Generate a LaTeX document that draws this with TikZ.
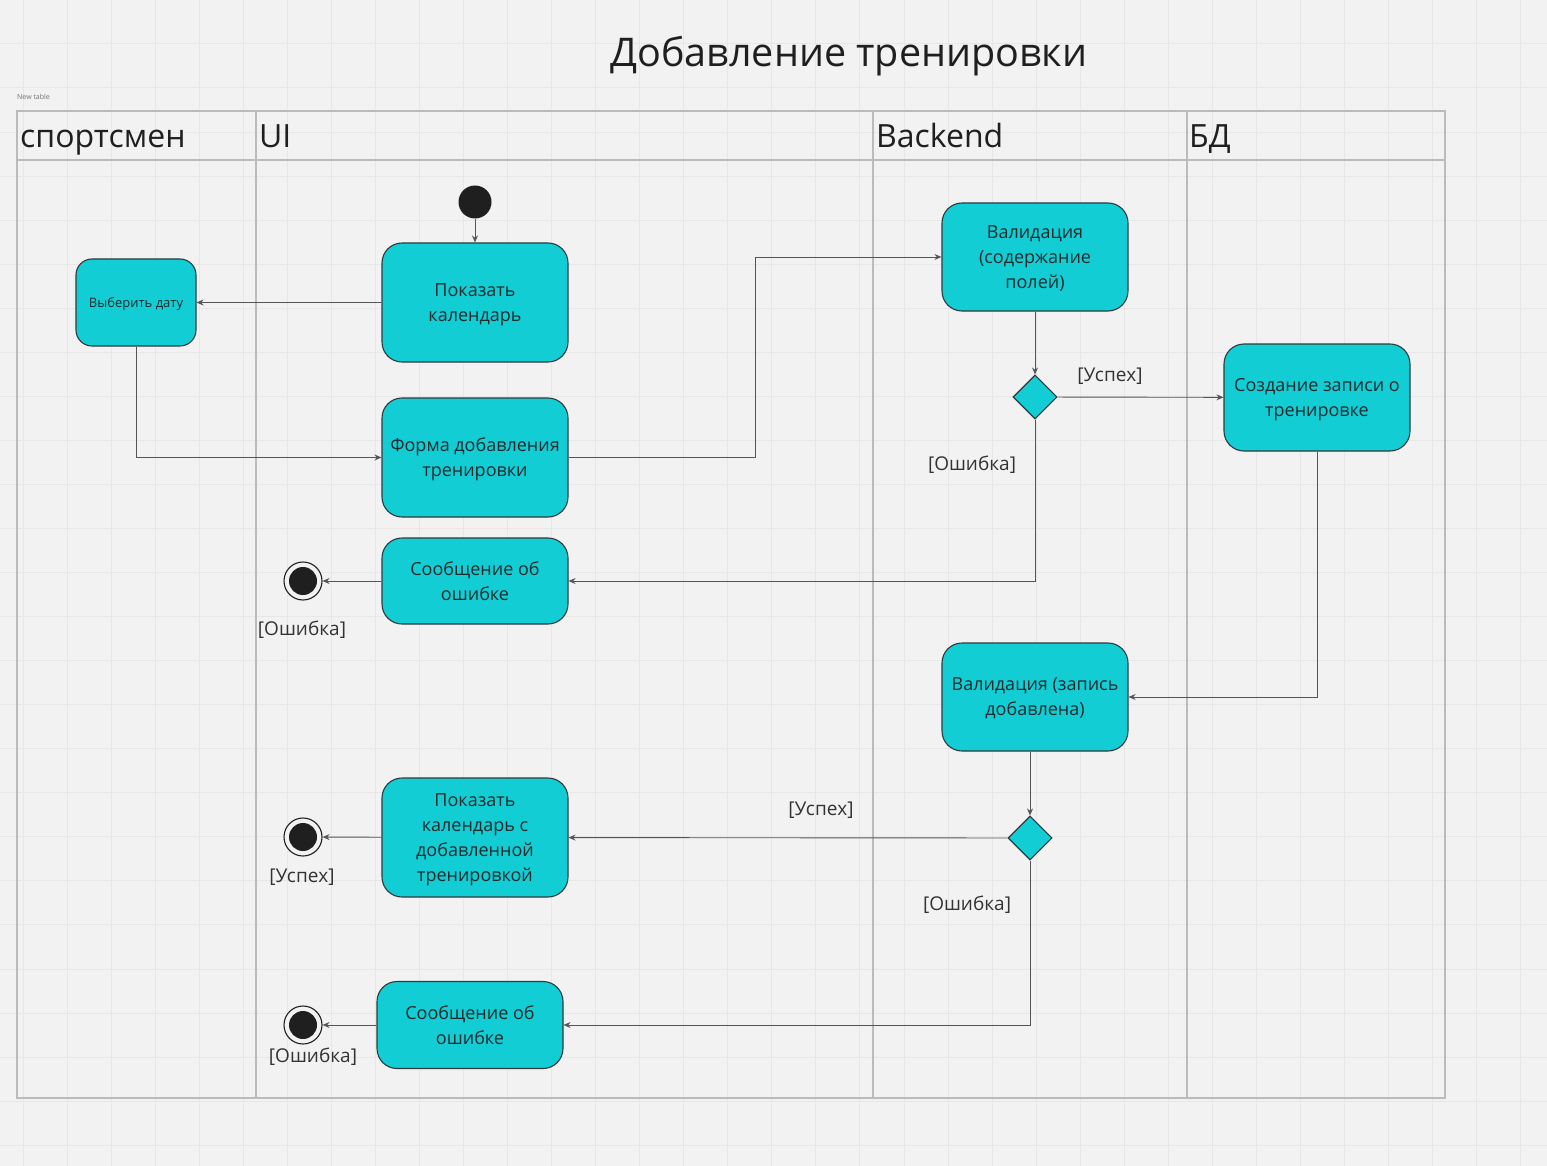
\documentclass[tikz,border=0pt]{standalone}
\usepackage{fontspec}
\setmainfont{Open Sans}
\usetikzlibrary{arrows.meta,shapes.geometric}
\definecolor{bg}{HTML}{F2F2F2}
\definecolor{gridc}{HTML}{E7E7E7}
\definecolor{lanec}{HTML}{BBBBBB}
\definecolor{nodefill}{HTML}{13CDD4}
\definecolor{nodeline}{HTML}{2E3A3C}
\definecolor{txt}{HTML}{1E2A2C}
\definecolor{linec}{HTML}{555555}
\tikzset{
  act/.style={draw=nodeline, line width=1.1pt, fill=nodefill, rounded corners=20pt,
    minimum width=186pt, align=center, text=txt, text depth=0pt,
    font=\fontsize{18}{25}\selectfont, inner sep=2pt},
  dec/.style={draw=nodeline, line width=1.1pt, fill=nodefill, diamond, minimum width=44pt, minimum height=44pt, inner sep=0pt},
  initnode/.style={circle, fill=black!88, minimum size=33pt, inner sep=0pt},
  finalnode/.style={circle, draw=black!88, line width=1.1pt, fill=bg, minimum size=38pt, inner sep=0pt,
    path picture={\fill[black!88] (path picture bounding box.center) circle (14pt);}},
  conn/.style={draw=linec, line width=0.9pt, -{Stealth[length=7pt,width=6pt]}},
  lbl/.style={text=black!80, font=\fontsize{19}{22}\selectfont, inner sep=0pt},
  lanehead/.style={anchor=base west, text=black!88, font=\fontsize{32}{36}\selectfont, inner sep=0pt},
}
\begin{document}
\begin{tikzpicture}[x=1pt,y=-1pt]
\useasboundingbox (0,0) rectangle (1547,1166);
\fill[bg] (0,0) rectangle (1547,1166);
% grid
\foreach \i in {0,...,35} {\draw[gridc, line width=1pt] ({23+44.05*(\i-1)},0) -- ({23+44.05*(\i-1)},1166);}
\foreach \j in {0,...,27} {\draw[gridc, line width=1pt] (0,{-0.1+44.05*\j}) -- (1547,{-0.1+44.05*\j});}
% title
\node[text=black!88, font=\fontsize{39.5}{44}\selectfont, inner sep=0pt] (title) at (849,56) {Добавление тренировки};
\node[anchor=west, text=black!55, font=\fontsize{7}{8}\selectfont, inner sep=0pt] (newtable) at (17,97) {New table};
% swimlanes
\draw[lanec, line width=1.5pt] (17,111) rectangle (1445,1098);
\draw[lanec, line width=1.5pt] (17,160) -- (1445,160);
\draw[lanec, line width=1.5pt] (256,111) -- (256,1098);
\draw[lanec, line width=1.5pt] (873,111) -- (873,1098);
\draw[lanec, line width=1.5pt] (1187,111) -- (1187,1098);
\node[lanehead] (h1) at (20,148) {спортсмен};
\node[lanehead] (h2) at (259,148) {UI};
\node[lanehead] (h3) at (876,148) {Backend};
\node[lanehead] (h4) at (1189,148) {БД};
% nodes
\node[initnode] (init) at (475,202) {};
\node[act, minimum width=120pt, minimum height=87pt, rounded corners=16pt, font=\fontsize{13}{16}\selectfont] (date) at (136,302.5) {Выберить дату};
\node[act, minimum height=119pt] (cal) at (475,302.5) {Показать\\календарь};
\node[act, minimum height=119pt] (form) at (475,457.5) {Форма добавления\\тренировки};
\node[act, minimum height=86pt] (err1) at (475,581) {Сообщение об\\ошибке};
\node[finalnode] (fin1) at (303,581) {};
\node[act, minimum height=108pt] (val1) at (1035,257) {Валидация\\(содержание\\полей)};
\node[dec] (d1) at (1035,397) {};
\node[act, minimum height=107pt] (create) at (1317,397.5) {Создание записи о\\тренировке};
\node[act, minimum height=108pt] (val2) at (1035,697) {Валидация (запись\\добавлена)};
\node[dec] (d2) at (1030,838) {};
\node[act, minimum height=119pt] (cal2) at (475,837.5) {Показать\\календарь с\\добавленной\\тренировкой};
\node[finalnode] (fin2) at (303,837) {};
\node[act, minimum height=87pt] (err2) at (470,1025) {Сообщение об\\ошибке};
\node[finalnode] (fin3) at (303,1025) {};
% labels
\node[lbl] (l1) at (1110,376) {[Успех]};
\node[lbl] (l2) at (972,465) {[Ошибка]};
\node[lbl] (l3) at (302,630) {[Ошибка]};
\node[lbl] (l4) at (821,810) {[Успех]};
\node[lbl] (l5) at (967,905) {[Ошибка]};
\node[lbl] (l6) at (302,877) {[Успех]};
\node[lbl] (l7) at (313,1057) {[Ошибка]};
% connectors
\draw[conn] (init) -- (cal);
\draw[conn] (cal) -- (date);
\draw[conn] (date.south) |- (form.west);
\draw[conn] (form.east) -- (755,457.5) |- (val1.west);
\draw[conn] (val1) -- (d1);
\draw[conn] (d1) -- (create);
\draw[conn] (d1.south) |- (err1.east);
\draw[conn] (err1) -- (fin1);
\draw[conn] (create.south) |- (val2.east);
\draw[conn] (val2.south -| d2) -- (d2);
\draw[conn] (d2) -- (cal2);
\draw[conn] (cal2) -- (fin2);
\draw[conn] (d2.south) |- (err2.east);
\draw[conn] (err2) -- (fin3);
\end{tikzpicture}
\end{document}
